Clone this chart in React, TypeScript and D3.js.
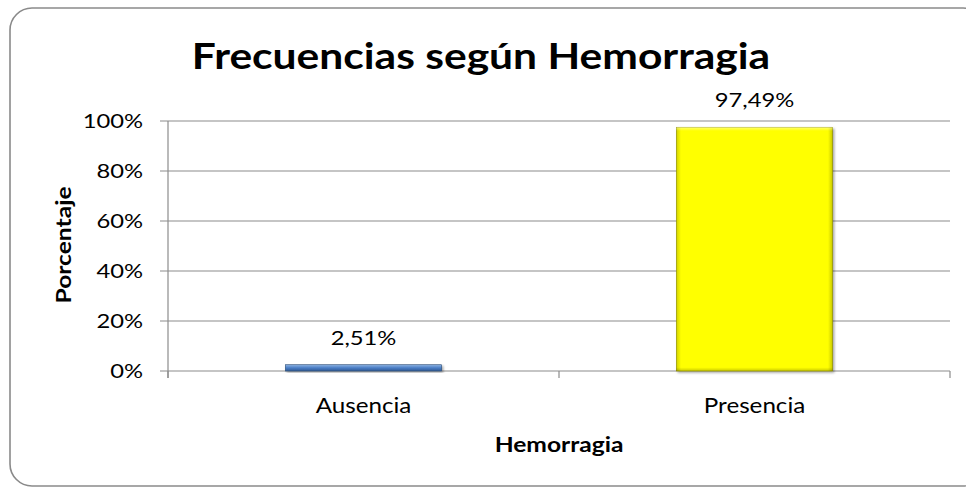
import React from "react";
import * as d3 from "d3";

const categories = ["Ausencia", "Presencia"];
const values = [2.51, 97.49];
const labels = ["2,51%", "97,49%"];
const yTicks = [0, 20, 40, 60, 80, 100];
const barColors = ["#4F81BD", "#FFFF00"];
const barEdge = ["#2C4D75", "#9A9A00"];

const W = 966;
const H = 488;
const M = { left: 168, right: 950, top: 121, bottom: 371 };
const FONT = "Lato, 'Open Sans', sans-serif";
const SX = 1.22;

function T(props: { x: number; y: number; size: number; bold?: boolean; anchor?: string; sx?: number; rotate?: number; children: React.ReactNode }) {
  const { x, y, size, bold, anchor = "middle", sx = SX, rotate = 0, children } = props;
  return (
    <text
      transform={`translate(${x},${y}) rotate(${rotate}) scale(${sx},1)`}
      textAnchor={anchor}
      fontFamily={FONT}
      fontWeight={bold ? 700 : 400}
      fontSize={size}
      fill="#000"
    >
      {children}
    </text>
  );
}

export default function App() {
  const x = d3.scaleBand<string>().domain(categories).range([M.left, M.right]).paddingInner(0.6).paddingOuter(0.3);
  const xb = d3.scaleBand<string>().domain(categories).range([M.left, M.right]);
  const y = d3.scaleLinear().domain([0, 100]).range([M.bottom, M.top]);

  return (
    <svg width={W} height={H} style={{ position: "absolute", left: 0, top: 0, background: "#fff" }}>
      <defs>
        <filter id="sh" x="-10%" y="-10%" width="130%" height="130%">
          <feDropShadow dx="1.5" dy="1.5" stdDeviation="1.2" floodColor="#000" floodOpacity="0.35" />
        </filter>
        <linearGradient id="edgeH" x1="0" y1="0" x2="1" y2="0">
          <stop offset="0" stopColor="#000" stopOpacity="0.18" />
          <stop offset="0.03" stopColor="#000" stopOpacity="0" />
          <stop offset="0.97" stopColor="#000" stopOpacity="0" />
          <stop offset="1" stopColor="#000" stopOpacity="0.22" />
        </linearGradient>
        <linearGradient id="edgeV" x1="0" y1="0" x2="0" y2="1">
          <stop offset="0" stopColor="#fff" stopOpacity="0.45" />
          <stop offset="0.015" stopColor="#fff" stopOpacity="0" />
          <stop offset="0.985" stopColor="#000" stopOpacity="0" />
          <stop offset="1" stopColor="#000" stopOpacity="0.2" />
        </linearGradient>
        <linearGradient id="blueV" x1="0" y1="0" x2="0" y2="1">
          <stop offset="0" stopColor="#8DB3E2" />
          <stop offset="0.5" stopColor="#4A7EC6" />
          <stop offset="1" stopColor="#2F5A94" />
        </linearGradient>
      </defs>
      <rect x={10} y={8} width={975} height={478} rx={22} ry={22} fill="#fff" stroke="#8a8a8a" strokeWidth={1.6} />

      <T x={481} y={69} size={37} bold sx={1.15}>
        Frecuencias según Hemorragia
      </T>

      {yTicks.map((t) => (
        <g key={t}>
          <line x1={M.left - 8} x2={M.right} y1={y(t)} y2={y(t)} stroke="#8c8c8c" strokeWidth={1.2} />
          <T x={143} y={y(t) + 7} size={19} anchor="end" sx={1.25}>
            {t}%
          </T>
        </g>
      ))}
      <line x1={M.left} x2={M.left} y1={M.top} y2={M.bottom + 7} stroke="#8c8c8c" strokeWidth={1.2} />
      {[M.left, ...categories.map((c) => (xb(c) as number) + xb.bandwidth())].map((px, i) => (
        <line key={i} x1={px} x2={px} y1={M.bottom} y2={M.bottom + 7} stroke="#8c8c8c" strokeWidth={1.2} />
      ))}

      {categories.map((c, i) => {
        const bx = x(c) as number;
        const bw = x.bandwidth();
        const by = y(values[i]);
        const bh = y(0) - by;
        return (
          <g key={c}>
            <g filter="url(#sh)">
              <rect x={bx} y={by} width={bw} height={bh} fill={i === 0 ? "url(#blueV)" : barColors[i]} stroke={barEdge[i]} strokeWidth={0.6} />
            </g>
            {i === 1 && <rect x={bx} y={by} width={bw} height={bh} fill="url(#edgeH)" />}
            {i === 1 && <rect x={bx} y={by} width={bw} height={bh} fill="url(#edgeV)" />}
            <T x={bx + bw / 2} y={by - 20} size={19} sx={1.25}>
              {labels[i]}
            </T>
            <T x={(xb(c) as number) + xb.bandwidth() / 2} y={413} size={20.5} sx={1.18}>
              {c}
            </T>
          </g>
        );
      })}

      <T x={559} y={452} size={20.5} bold sx={1.2}>
        Hemorragia
      </T>
      <T x={71} y={245} size={20.5} bold sx={1.2} rotate={-90}>
        Porcentaje
      </T>
    </svg>
  );
}
